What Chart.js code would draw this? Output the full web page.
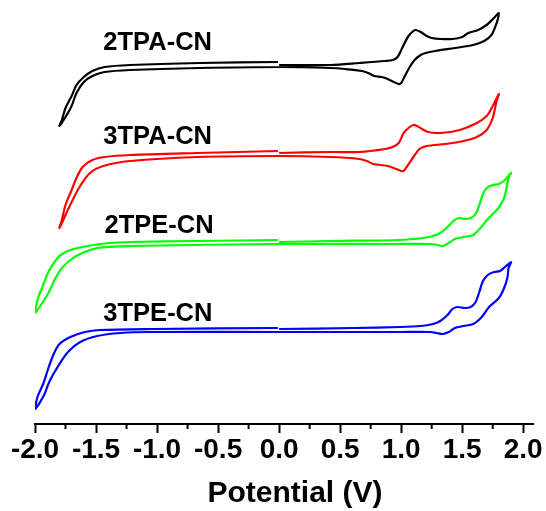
<!DOCTYPE html>
<html><head><meta charset="utf-8">
<script src="https://cdn.jsdelivr.net/npm/chart.js@4/dist/chart.umd.min.js"></script>
<style>html,body{margin:0;padding:0;background:#fff}</style>
</head><body>
<canvas id="c" width="546" height="511" style="display:block;width:546px;height:511px"></canvas>
<script>
// Series names (labels drawn in plot)
const seriesNames = ['2TPA-CN', '3TPA-CN', '2TPE-CN', '3TPE-CN'];
const seriesColors = ['#000000', '#ff0000', '#00ff00', '#0000ff'];
const xAxisTitle = 'Potential (V)';

// Potential (V) and offset current (a.u.) for each cyclic voltammogram
const tpa2X = [0.00,0.42,0.66,0.87,0.93,0.97,1.02,1.06,1.10,1.12,1.16,1.21,1.25,1.32,1.42,1.50,1.55,1.63,1.70,1.76,1.80,
  1.79,1.77,1.74,1.68,1.59,1.44,1.28,1.20,1.16,1.11,1.07,1.03,1.00,0.98,0.94,0.89,0.84,0.78,0.73,0.68,0.54,0.42,0.01,-0.65,-1.22,-1.43,-1.53,-1.60,-1.66,-1.70,-1.75,-1.80,
  -1.78,-1.75,-1.70,-1.66,-1.60,-1.53,-1.43,-1.22,-0.65,-0.01];
const tpa2Y = [359,359,361,363,364,367,379,388,393,394,392,388,386,385,385,387,391,394,399,406,411,
  404,397,389,383,379,376,373,371,369,364,357,348,341,340,342,345,347,348,351,353,355,356,357,356,354,352,348,342,331,318,307,298,
  304,316,328,339,347,353,357,359,361,362];

const tpa3X = [0.00,0.42,0.66,0.87,0.93,0.98,1.02,1.06,1.10,1.13,1.17,1.22,1.32,1.48,1.62,1.70,1.75,1.80,
  1.78,1.75,1.70,1.62,1.51,1.36,1.21,1.15,1.10,1.05,1.02,1.00,0.96,0.89,0.83,0.77,0.72,0.66,0.42,0.01,-0.67,-1.22,-1.44,-1.55,-1.63,-1.70,-1.75,-1.80,
  -1.78,-1.75,-1.70,-1.66,-1.61,-1.53,-1.43,-1.22,-0.67,-0.01];
const tpa3Y = [271,272,272,275,277,281,291,296,299,298,295,292,291,294,301,308,318,330,
  322,306,294,287,283,280,278,275,267,258,253,253,255,258,259,260,263,265,267,268,267,263,258,251,238,222,209,196,
  204,219,234,246,257,264,267,269,271,273];

const tpe2X = [0.00,0.42,0.99,1.18,1.26,1.32,1.38,1.43,1.47,1.52,1.57,1.61,1.64,1.67,1.70,1.75,1.80,1.85,1.90,
  1.88,1.86,1.84,1.79,1.71,1.65,1.59,1.51,1.44,1.39,1.34,1.30,1.24,0.99,0.01,-1.22,-1.49,-1.63,-1.71,-1.78,-1.84,-1.89,-1.94,-2.00,
  -1.98,-1.93,-1.89,-1.84,-1.79,-1.71,-1.57,-1.39,-1.22,-0.67,-0.01];
const tpe2Y = [182,183,184,186,188,191,197,203,206,205,206,210,219,230,236,239,240,244,251,
  246,234,225,215,205,196,189,187,185,181,178,179,180,180,180,178,176,170,164,156,144,131,121,111,
  124,140,152,162,169,174,178,181,182,183,184];

const tpe3X = [0.00,0.61,0.99,1.16,1.26,1.32,1.38,1.42,1.46,1.52,1.57,1.61,1.64,1.67,1.71,1.76,1.81,1.85,1.90,
  1.88,1.87,1.84,1.80,1.72,1.66,1.59,1.51,1.44,1.39,1.34,1.29,1.24,0.99,0.01,-1.06,-1.30,-1.49,-1.63,-1.73,-1.81,-1.88,-1.93,-2.00,
  -1.98,-1.93,-1.89,-1.85,-1.80,-1.71,-1.59,-1.47,-1.03,-0.01];
const tpe3Y = [95,96,97,98,100,103,109,115,117,116,117,122,132,143,149,152,153,157,162,
  156,146,135,126,117,107,100,98,96,92,90,91,92,92,92,92,91,88,82,72,58,43,28,15,
  27,41,56,69,80,87,92,94,95,96];

// Curve label anchors (potential, current)
const labelX = [-1.44, -1.44, -1.43, -1.44];
const labelY = [374, 280, 191, 103];

// Axis ticks
const xTickValues = [-2.0, -1.5, -1.0, -0.5, 0.0, 0.5, 1.0, 1.5, 2.0];
const xTickLabels = ['-2.0', '-1.5', '-1.0', '-0.5', '0.0', '0.5', '1.0', '1.5', '2.0'];
const xMinorTickValues = [-1.75, -1.25, -0.75, -0.25, 0.25, 0.75, 1.25, 1.75];

const allX = [tpa2X, tpa3X, tpe2X, tpe3X];
const allY = [tpa2Y, tpa3Y, tpe2Y, tpe3Y];

const datasets = allX.map((xs, i) => ({
  label: seriesNames[i],
  data: xs.map((x, j) => ({ x: x, y: allY[i][j] })),
  borderColor: seriesColors[i],
  backgroundColor: seriesColors[i],
  borderWidth: 2.2,
  pointRadius: 0,
  showLine: true,
  tension: 0.3,
  fill: false
}));

const FONT = '"Liberation Sans", Arial, sans-serif';

const decorPlugin = {
  id: 'decor',
  afterDatasetsDraw(chart) {
    const ctx = chart.ctx, xs = chart.scales.x, ys = chart.scales.y;
    ctx.save();
    ctx.fillStyle = '#000';
    ctx.font = 'bold 25.5px ' + FONT;
    ctx.textAlign = 'left';
    ctx.textBaseline = 'alphabetic';
    seriesNames.forEach((n, i) => {
      ctx.fillText(n, xs.getPixelForValue(labelX[i]), ys.getPixelForValue(labelY[i]));
    });
    ctx.restore();
  },
  afterDraw(chart) {
    const ctx = chart.ctx, xs = chart.scales.x;
    const a = chart.chartArea;
    const b = a.bottom;
    ctx.save();
    ctx.strokeStyle = '#000';
    ctx.lineWidth = 2;
    xMinorTickValues.forEach(v => {
      const p = xs.getPixelForValue(v);
      ctx.beginPath();
      ctx.moveTo(p, b);
      ctx.lineTo(p, b + 5);
      ctx.stroke();
    });
    // axis title
    ctx.fillStyle = '#000';
    ctx.font = 'bold 30px ' + FONT;
    ctx.textAlign = 'center';
    ctx.textBaseline = 'alphabetic';
    ctx.fillText(xAxisTitle, (a.left + a.right) / 2 + 11, b + 78);
    ctx.restore();
  }
};

new Chart(document.getElementById('c'), {
  type: 'scatter',
  data: { datasets },
  options: {
    responsive: false,
    animation: false,
    devicePixelRatio: 1,
    layout: { padding: { left: 35, right: 13, top: 0, bottom: 44.4 } },
    plugins: { legend: { display: false }, tooltip: { enabled: false } },
    scales: {
      x: {
        type: 'linear', min: -2.0, max: 2.08,
        afterBuildTicks: s => { s.ticks = xTickValues.map(v => ({ value: v })); },
        ticks: {
          callback: (v, i) => xTickLabels[i],
          font: { family: FONT, weight: 'bold', size: 28 },
          color: '#000', padding: 0, maxRotation: 0, autoSkip: false
        },
        grid: { display: true, drawOnChartArea: false, drawTicks: true, tickLength: 9, tickWidth: 2, tickColor: '#000' },
        border: { display: true, color: '#000', width: 2 },
        title: { display: false }
      },
      y: { type: 'linear', display: false, min: 0, max: 424 }
    }
  },
  plugins: [decorPlugin]
});
</script>
</body></html>
